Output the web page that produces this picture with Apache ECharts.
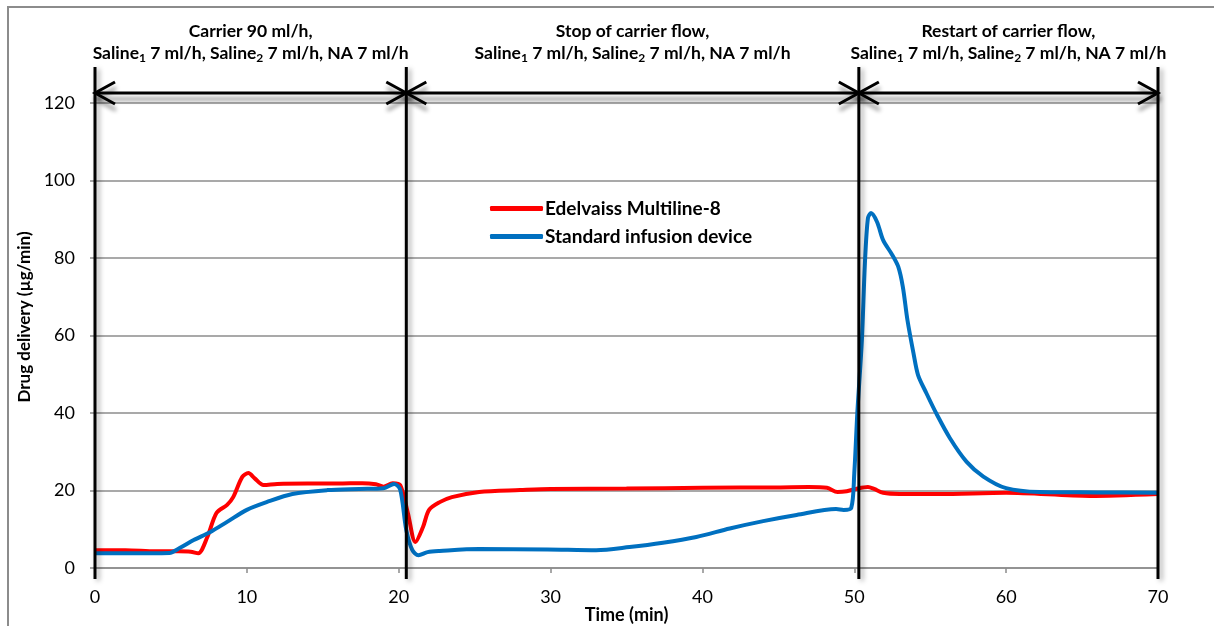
<!DOCTYPE html>
<html>
<head>
<meta charset="utf-8">
<script src="https://cdn.jsdelivr.net/npm/echarts@6/dist/echarts.min.js"></script>
<style>
  html, body { margin: 0; padding: 0; background: #fff; }
  #chart { width: 1214px; height: 626px; }
</style>
</head>
<body>
<div id="chart"></div>
<script>
// ---- data ----
const seriesNames = ['Edelvaiss Multiline-8', 'Standard infusion device'];

const edelTime  = [0, 2, 4, 5.5, 6.3, 6.8, 7.4, 8.0, 8.7, 9.1, 9.7, 10.1, 10.5, 11.1, 12, 14, 16, 17.6, 18.5, 19.0, 19.6, 20.1, 20.6, 21.1, 21.6, 22.0, 22.7, 23.5, 25.3, 28, 30, 35, 40, 45, 47, 48.2, 48.9, 49.5, 50.1, 50.9, 51.3, 51.9, 53, 55.6, 60, 65.5, 70];
const edelValue = [4.6, 4.6, 4.3, 4.3, 4.2, 3.8, 8, 14.2, 16.3, 18.3, 23.5, 24.5, 23.2, 21.4, 21.7, 21.8, 21.8, 21.9, 21.6, 21.0, 21.9, 21.4, 14.2, 6.7, 10.6, 15, 17, 18.3, 19.6, 20.1, 20.4, 20.5, 20.7, 20.8, 20.9, 20.7, 19.6, 19.8, 20.4, 20.9, 20.4, 19.4, 19.1, 19.1, 19.4, 18.6, 19.1];

const stdTime  = [0, 2, 4.9, 5.6, 6.5, 7.6, 8.7, 10, 11.3, 13, 15.3, 17.4, 19, 19.7, 20.1, 20.5, 20.9, 21.3, 21.9, 22.7, 25.3, 29.8, 33, 35.2, 37.4, 39.6, 41.8, 44, 46.2, 48.8, 49.3, 49.8, 50.0, 50.2, 50.5, 50.7, 50.9, 51.1, 51.5, 51.9, 52.5, 52.9, 53.2, 53.5, 53.9, 54.2, 54.75, 55.4, 56.3, 57.4, 58.5, 60, 62.2, 66, 70];
const stdValue = [3.8, 3.8, 3.9, 5.2, 7.2, 9.3, 11.9, 15, 17, 19.1, 20.1, 20.4, 20.6, 21.7, 20.2, 9.8, 4.6, 3.3, 4.1, 4.4, 4.9, 4.8, 4.6, 5.4, 6.5, 8.0, 10.2, 12.1, 13.7, 15.2, 15.0, 15.5, 24.5, 40, 58.8, 78.7, 90.3, 91.6, 89.3, 84.6, 80.8, 77.7, 72.5, 64, 55.4, 49.8, 45.1, 39.9, 33.5, 27.4, 23.6, 20.6, 19.6, 19.5, 19.4];

// phases of the experiment
const phaseBounds = [0, 20.5, 50.3, 70];
const phaseTitles = ['Carrier 90 ml/h,', 'Stop of carrier flow,', 'Restart of carrier flow,'];
const phaseRates  = [
  '{b|Saline}{s|1}{b| 7 ml/h, Saline}{s|2}{b| 7 ml/h, NA 7 ml/h}',
  '{b|Saline}{s|1}{b| 7 ml/h, Saline}{s|2}{b| 7 ml/h, NA 7 ml/h}',
  '{b|Saline}{s|1}{b| 7 ml/h, Saline}{s|2}{b| 7 ml/h, NA 7 ml/h}'
];

const xTicks = { min: 0, max: 70, interval: 10 };
const yTicks = { min: 0, max: 120, interval: 20 };
const xTitle = 'Time (min)';
const yTitle = 'Drug delivery (µg/min)';

// ---- chart ----
const FONT = 'Lato, "Open Sans", "DejaVu Sans", sans-serif';
const chart = echarts.init(document.getElementById('chart'), null, { renderer: 'canvas' });

const pair = (t, v) => t.map((x, i) => [x, v[i]]);

const phaseData = phaseTitles.map((t, i) => [phaseBounds[i], phaseBounds[i + 1], i]);

const option = {
  backgroundColor: '#fff',
  animation: false,
  grid: { left: 95, right: 56, top: 103, bottom: 58, containLabel: false, outerBoundsMode: 'none' },
  legend: {
    data: seriesNames,
    orient: 'vertical',
    left: 485,
    top: 194,
    icon: 'roundRect',
    itemWidth: 53,
    itemHeight: 5,
    itemGap: 9,
    textStyle: { fontFamily: FONT, fontWeight: 'bold', fontSize: 19, color: '#000', padding: [0, 0, 0, -3] }
  },
  graphic: [
    {
      type: 'rect', z: -10, silent: true,
      shape: { x: 8, y: 7, width: 1300, height: 700 },
      style: { fill: 'none', stroke: '#8c8c8c', lineWidth: 2 }
    },
    {
      type: 'text', x: 25, y: 317, rotation: Math.PI / 2, silent: true,
      style: { text: yTitle, fontFamily: FONT, fontWeight: 'bold', fontSize: 17, fill: '#000', align: 'center', verticalAlign: 'middle' }
    }
  ],
  xAxis: {
    type: 'value',
    min: xTicks.min, max: xTicks.max, interval: xTicks.interval,
    name: xTitle,
    nameLocation: 'middle',
    nameGap: 38,
    nameMoveOverlap: false,
    nameTextStyle: { fontFamily: FONT, fontWeight: 'bold', fontSize: 18, color: '#000' },
    axisLine: { show: true, lineStyle: { color: '#8c8c8c', width: 1.5 } },
    axisTick: { show: true, length: 5, lineStyle: { color: '#8c8c8c', width: 1.5 } },
    axisLabel: { fontFamily: FONT, fontSize: 18, color: '#000', margin: 20 },
    splitLine: { show: false }
  },
  yAxis: {
    type: 'value',
    min: yTicks.min, max: yTicks.max, interval: yTicks.interval,
    axisLine: { show: true, lineStyle: { color: '#8c8c8c', width: 1.5 } },
    axisTick: { show: true, length: 5, lineStyle: { color: '#8c8c8c', width: 1.5 } },
    axisLabel: { fontFamily: FONT, fontSize: 18, color: '#000', margin: 20 },
    splitLine: { show: true, lineStyle: { color: '#8c8c8c', width: 1.5 } }
  },
  series: [
    {
      name: seriesNames[0], type: 'line', data: pair(edelTime, edelValue),
      smooth: 0.3, symbol: 'none', z: 3,
      lineStyle: { color: '#ff0000', width: 4 }, itemStyle: { color: '#ff0000' }
    },
    {
      name: seriesNames[1], type: 'line', data: pair(stdTime, stdValue),
      smooth: 0.3, symbol: 'none', z: 4,
      lineStyle: { color: '#0070c0', width: 4 }, itemStyle: { color: '#0070c0' }
    },
    {
      // vertical phase boundaries
      type: 'custom', name: 'bounds', z: 5, clip: false, silent: true,
      data: phaseBounds.map(b => [b, 0]),
      renderItem: function (params, api) {
        const p = api.coord([api.value(0), 0]);
        const top = api.coord([api.value(0), yTicks.max])[1];
        return {
          type: 'line',
          shape: { x1: p[0], y1: top - 36, x2: p[0], y2: p[1] + 11 },
          style: { stroke: '#000', lineWidth: 3, shadowBlur: 5, shadowColor: 'rgba(0,0,0,0.35)', shadowOffsetX: 3, shadowOffsetY: 2 }
        };
      }
    },
    {
      // double-headed arrows and phase labels
      type: 'custom', name: 'phases', z: 6, clip: false, silent: true,
      data: phaseData,
      renderItem: function (params, api) {
        const i = api.value(2);
        const a = api.coord([api.value(0), yTicks.max]);
        const b = api.coord([api.value(1), yTicks.max]);
        const y = a[1] - 10;
        const ax = 20, ay = 11;
        const arrowStyle = { stroke: '#000', lineWidth: 3, fill: 'none', shadowBlur: 4, shadowColor: 'rgba(0,0,0,0.45)', shadowOffsetX: 1, shadowOffsetY: 6 };
        return {
          type: 'group',
          children: [
            { type: 'line', shape: { x1: a[0], y1: y, x2: b[0], y2: y }, style: arrowStyle },
            { type: 'polyline', shape: { points: [[a[0] + ax, y - ay], [a[0], y], [a[0] + ax, y + ay]] }, style: arrowStyle },
            { type: 'polyline', shape: { points: [[b[0] - ax, y - ay], [b[0], y], [b[0] - ax, y + ay]] }, style: arrowStyle },
            {
              type: 'text',
              style: {
                x: (a[0] + b[0]) / 2,
                y: y - 29,
                text: '{b|' + phaseTitles[i] + '}\n' + phaseRates[i],
                align: 'center',
                verticalAlign: 'bottom',
                fill: '#000',
                fontFamily: FONT, fontWeight: 'bold', fontSize: 17.5, lineHeight: 22,
                rich: {
                  b: { fontFamily: FONT, fontWeight: 'bold', fontSize: 17.5, lineHeight: 22, fill: '#000' },
                  s: { fontFamily: FONT, fontWeight: 'bold', fontSize: 12, lineHeight: 15, verticalAlign: 'bottom', fill: '#000' }
                }
              }
            }
          ]
        };
      }
    }
  ]
};

chart.setOption(option);
</script>
</body>
</html>
